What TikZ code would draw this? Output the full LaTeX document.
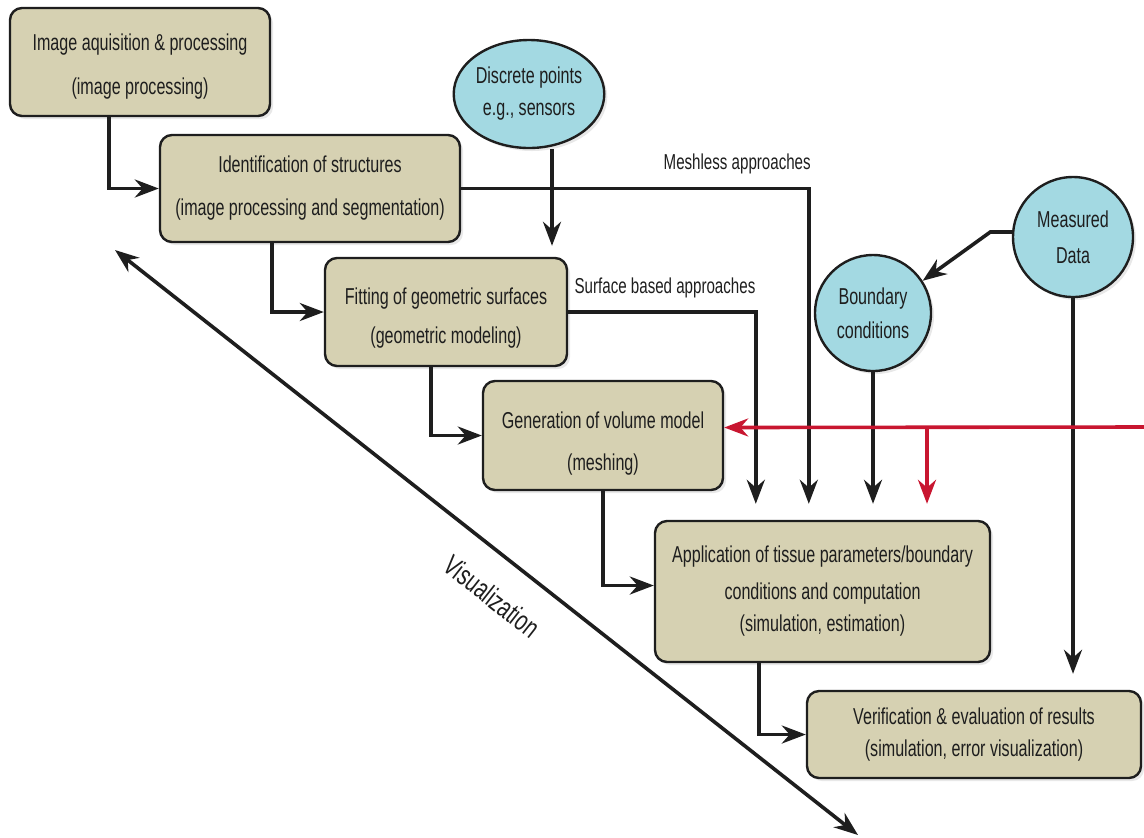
\documentclass[tikz,border=0pt]{standalone}
\usepackage{fontspec}
\setmainfont{Liberation Sans}[FakeStretch=0.7]
\usetikzlibrary{arrows.meta,shadows,shapes.geometric}

\definecolor{boxtan}{RGB}{214,209,178}
\definecolor{sensorblue}{RGB}{163,217,226}
\definecolor{feedred}{RGB}{200,22,48}
\definecolor{inkgray}{RGB}{30,30,30}

\tikzset{
  stage/.style={draw=inkgray, line width=1.2pt, fill=boxtan, rounded corners=6pt,
    align=center, inner sep=0pt, text=inkgray,
    font=\fontsize{11.5}{14}\selectfont,
    drop shadow={opacity=0.18, shadow xshift=1.5pt, shadow yshift=-1.5pt}},
  source/.style={draw=inkgray, line width=1.2pt, fill=sensorblue, circle,
    align=center, inner sep=0pt, text=inkgray,
    font=\fontsize{11.5}{14}\selectfont,
    drop shadow={opacity=0.18, shadow xshift=1.5pt, shadow yshift=-1.5pt}},
  flow/.style={->, line width=1.8pt, draw=inkgray},
  feedback/.style={->, line width=1.8pt, draw=feedred},
  approach/.style={font=\fontsize{10.8}{12}\selectfont, text=inkgray}
}
\newcommand{\lift}[1]{\rule{0pt}{#1}}

\begin{document}
\begin{tikzpicture}[line join=miter, >={Stealth[length=12pt,width=9pt]}, x=0.5pt, y=-0.5pt]

\useasboundingbox (0,0) rectangle (1144,837);

% processing chain
\node[stage, minimum width=130pt, minimum height=54pt] (acq) at (140,62)
  {\lift{12.5pt}Image aquisition \& processing\\[8pt](image processing)};
\node[stage, minimum width=150pt, minimum height=53.5pt] (ident) at (310,188.5)
  {Identification of structures\\[7.5pt](image processing and segmentation)};
\node[stage, minimum width=121pt, minimum height=54pt] (fit) at (446,312)
  {\lift{14.5pt}Fitting of geometric surfaces\\[5.5pt](geometric modeling)};
\node[stage, minimum width=120pt, minimum height=54.5pt] (mesh) at (603,435.5)
  {\lift{16.5pt}Generation of volume model\\[7pt](meshing)};
\node[stage, minimum width=167.5pt, minimum height=70.5pt] (sim) at (822.5,591.5)
  {Application of tissue parameters/boundary\\[4.5pt]conditions and computation\\[2pt](simulation, estimation)};
\node[stage, minimum width=167pt, minimum height=43.5pt] (verif) at (974,734.5)
  {Verification \& evaluation of results\\[2pt](simulation, error visualization)};

% inputs
\node[source, ellipse, minimum width=75pt, minimum height=54pt] (sensors) at (529,94)
  {Discrete points\\[2pt]e.g., sensors};
\node[source, minimum size=60pt] (measured) at (1073,237)
  {Measured\\[4pt]Data};
\node[source, minimum size=58pt] (bound) at (873,313)
  {Boundary\\[3pt]conditions};

% step to step
\draw[flow] ([xshift=50pt]acq.south west) |- (ident.west);
\draw[flow] ([xshift=56.5pt]ident.south west) |- (fit.west);
\draw[flow] ([xshift=53.5pt]fit.south west) |- (mesh.west);
\draw[flow] ([xshift=60.5pt]mesh.south west) |- ([yshift=3pt]sim.west);
\draw[flow] ([xshift=52.5pt]sim.south west) |- (verif.west);

% shortcuts into the simulation
\draw[flow, shorten >=5.5pt] ([xshift=11.5pt]sensors.south) -- ([xshift=11.5pt]sensors.south |- fit.north);
\draw[flow, shorten >=8pt] (ident.east) -| ([xshift=77.5pt]sim.north west)
  node[approach, pos=0.397, above=3pt] {Meshless approaches};
\draw[flow, shorten >=8pt] (fit.east) -| ([xshift=51pt]sim.north west)
  node[approach, pos=0.258, above=3pt] {Surface based approaches};
\draw[flow, shorten >=8pt] (bound.south) -- (bound.south |- sim.north);

% measured data
\draw[flow] ([yshift=2.5pt]measured.west) -- ++(-21.5,0) -- (bound.33);
\draw[flow, shorten >=8pt] (measured.south) -- (measured.south |- verif.north);

% feedback (red)
\coordinate (redin) at (1144,427);
\coordinate (redsplit) at (927,427);
\draw[feedback] (redin) -- ([yshift=4pt]mesh.east);
\draw[feedback, shorten >=8pt] (redsplit) -- (redsplit |- sim.north);

% visualization axis
\coordinate (visA) at (115,250);
\coordinate (visB) at (858,835);
\draw[<->, line width=1.8pt, draw=inkgray] (visA) -- (visB)
  node[pos=0.54, sloped, below=10pt, font=\fontsize{14.3}{16}\selectfont, text=inkgray] {Visualization};

\end{tikzpicture}
\end{document}
